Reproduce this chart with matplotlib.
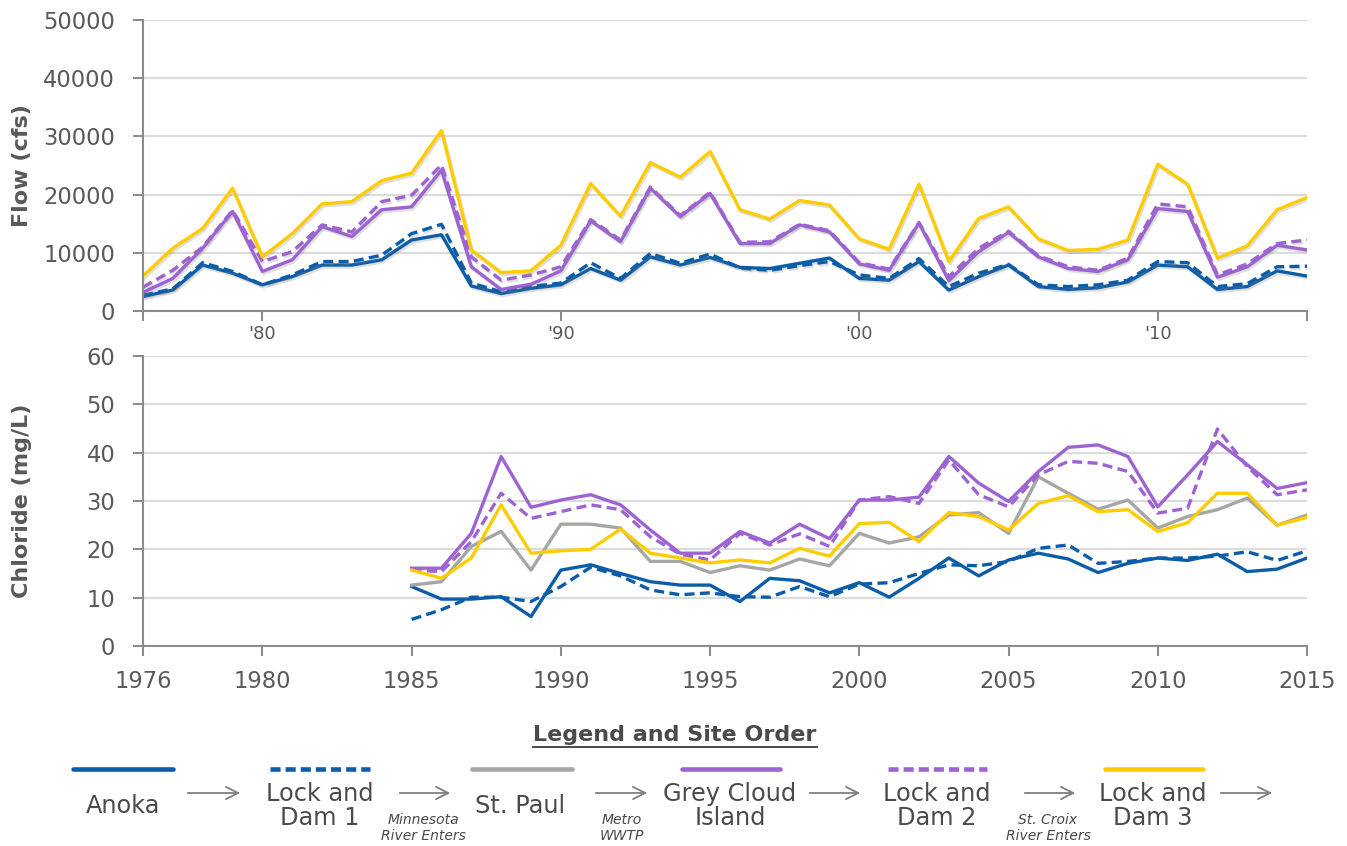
import numpy as np
import matplotlib
matplotlib.use("Agg")
import matplotlib.pyplot as plt
import matplotlib.patheffects as pe
from matplotlib.lines import Line2D
from matplotlib.patches import FancyArrowPatch

plt.rcParams['font.family'] = ['DejaVu Sans']

# ---- data ----
flow_years = np.arange(1976, 2016)
chl_years = np.arange(1985, 2016)

anoka_flow = [2500, 3600, 7900, 6500, 4500, 5900, 7900, 7900, 8800, 12200,
              13100, 4300, 3000, 3900, 4500, 7300, 5300, 9300, 7900, 9200,
              7500, 7300, 8200, 9100, 5600, 5300, 8500, 3600, 5900, 7900,
              4200, 3700, 4000, 5000, 7900, 7600, 3700, 4200, 6900, 6000]
ld1_flow = [2700, 3800, 8300, 6800, 4500, 6200, 8500, 8500, 9600, 13300,
            14900, 4800, 3300, 4200, 4800, 8300, 5600, 9900, 8200, 9800,
            7400, 7000, 7800, 8500, 6200, 5600, 9000, 4200, 6500, 8000,
            4500, 4200, 4500, 5300, 8500, 8300, 4200, 4700, 7600, 7700]
gci_flow = [3200, 5600, 10800, 17100, 6800, 8800, 14500, 12800, 17400, 17900,
            24200, 7600, 3700, 4600, 6900, 15500, 11900, 21100, 16200, 20200,
            11600, 11600, 14800, 13600, 8100, 7000, 15100, 5200, 10200, 13500,
            9300, 7300, 6800, 8800, 17600, 17100, 5800, 7600, 11300, 10500]
ld2_flow = [4100, 7000, 11000, 17300, 8500, 10200, 14800, 13600, 18800, 19900,
            25100, 9300, 5300, 6200, 7600, 15700, 12200, 21300, 16400, 20400,
            11800, 11900, 14900, 13800, 8300, 7200, 15200, 5900, 10800, 13700,
            9500, 7600, 7000, 9100, 18400, 17900, 6200, 8100, 11600, 12200]
ld3_flow = [6000, 10800, 14200, 21100, 9300, 13300, 18400, 18800, 22400, 23700,
            31000, 10500, 6600, 6900, 11300, 21900, 16300, 25500, 23000, 27400,
            17400, 15800, 19000, 18200, 12400, 10600, 21800, 8500, 15900, 17900,
            12400, 10400, 10600, 12200, 25200, 21800, 9100, 11200, 17400, 19500]

anoka_chl = [12.3, 9.7, 9.7, 10.2, 6.1, 15.7, 16.8, 15.0, 13.3, 12.6, 12.6, 9.2,
             14.0, 13.5, 11.0, 13.1, 10.1, 14.0, 18.2, 14.5, 17.8, 19.2, 18.0,
             15.2, 17.1, 18.2, 17.7, 19.0, 15.4, 15.9, 18.2]
ld1_chl = [5.5, 7.5, 10.1, 10.1, 9.2, 12.3, 16.3, 14.5, 11.6, 10.6, 11.0, 10.2,
           10.1, 12.3, 10.2, 12.8, 13.1, 15.0, 16.8, 16.6, 17.5, 20.2, 20.9,
           17.1, 17.5, 18.2, 18.2, 18.6, 19.5, 17.7, 19.7]
stpaul_chl = [12.6, 13.3, 20.6, 23.7, 15.7, 25.2, 25.2, 24.4, 17.5, 17.5, 15.2,
              16.6, 15.7, 18.0, 16.6, 23.3, 21.3, 22.6, 27.1, 27.6, 23.3, 35.0,
              31.6, 28.3, 30.2, 24.4, 26.8, 28.2, 30.6, 25.0, 27.1]
gci_chl = [16.1, 16.1, 23.3, 39.2, 28.7, 30.2, 31.3, 29.2, 24.0, 19.2, 19.2, 23.7,
           21.3, 25.2, 22.2, 30.2, 30.2, 30.8, 39.2, 33.7, 29.9, 36.1, 41.1,
           41.6, 39.2, 28.8, 35.4, 42.3, 37.5, 32.6, 33.8]
ld2_chl = [15.7, 15.4, 21.6, 31.6, 26.4, 27.8, 29.2, 28.2, 22.6, 19.0, 17.8, 23.3,
           20.9, 23.2, 20.6, 30.2, 30.9, 29.5, 38.5, 31.3, 28.8, 35.4, 38.2,
           37.8, 36.1, 27.5, 28.5, 44.9, 37.1, 31.3, 32.3]
ld3_chl = [15.7, 14.0, 18.2, 29.2, 19.2, 19.7, 20.0, 24.2, 19.2, 18.2, 17.2, 17.8,
           17.2, 20.2, 18.6, 25.3, 25.6, 21.6, 27.6, 26.8, 24.0, 29.5, 31.1,
           27.8, 28.2, 23.7, 25.5, 31.6, 31.6, 25.0, 26.6]

site_names = ["Anoka", "Lock and\nDam 1", "St. Paul", "Grey Cloud\nIsland",
              "Lock and\nDam 2", "Lock and\nDam 3"]
between_notes = ["", "Minnesota\nRiver Enters", "Metro\nWWTP", "", "St. Croix\nRiver Enters", ""]

# ---- styles ----
BLUE = "#0c5da8"
GREY = "#a6a6a6"
PURPLE = "#9e63d3"
YELLOW = "#ffcc00"
site_colors = [BLUE, BLUE, GREY, PURPLE, PURPLE, YELLOW]
site_dashed = [False, True, False, False, True, False]
flow_data = [anoka_flow, ld1_flow, None, gci_flow, ld2_flow, ld3_flow]
chl_data = [anoka_chl, ld1_chl, stpaul_chl, gci_chl, ld2_chl, ld3_chl]

W, H = 1347, 846
fig = plt.figure(figsize=(W / 100, H / 100), dpi=100)


def fx(x):
    return x / W


def fy(y):
    return 1 - y / H


ax1 = fig.add_axes([fx(143), fy(311), 1164 / W, 291 / H])
ax2 = fig.add_axes([fx(143), fy(646), 1164 / W, 290 / H])

shadow = [pe.SimpleLineShadow(offset=(1, -1.5), shadow_color="#808080", alpha=0.25), pe.Normal()]

for i in range(len(site_names)):
    kw = dict(color=site_colors[i], lw=2.4)
    if site_dashed[i]:
        kw["dashes"] = (3, 1.6)
    if flow_data[i] is not None:
        ax1.plot(flow_years, flow_data[i], path_effects=shadow, **kw)
    ax2.plot(chl_years, chl_data[i], **kw)

for ax in (ax1, ax2):
    for s in ("top", "right"):
        ax.spines[s].set_visible(False)
    for s in ("left", "bottom"):
        ax.spines[s].set_color("#8c8c8c")
        ax.spines[s].set_linewidth(1.5)
    ax.grid(axis="y", color="#dcdcdc", lw=1.6)
    ax.set_axisbelow(True)
    ax.set_xlim(1976, 2015)
    ax.tick_params(axis="both", direction="out", length=7, width=1.5,
                   color="#8c8c8c", labelcolor="#595959")
    ax.tick_params(axis="y", labelsize=16.3, pad=13)

ax1.set_ylim(0, 50000)
ax1.set_yticks(np.arange(0, 50001, 10000))
ax1.set_xticks([1976, 1980, 1990, 2000, 2010, 2015])
ax1.set_xticklabels(["", "'80", "'90", "'00", "'10", ""])
ax1.tick_params(axis="x", labelsize=13, pad=3)
ax1.set_ylabel("Flow (cfs)", fontsize=16, fontweight="bold", color="#595959")
ax1.yaxis.set_label_coords(-0.095, 0.5)

ax2.set_ylim(0, 60)
ax2.set_yticks(np.arange(0, 61, 10))
ax2.set_xticks([1976, 1980, 1985, 1990, 1995, 2000, 2005, 2010, 2015])
ax2.tick_params(axis="x", labelsize=16.3, pad=10)
ax2.set_ylabel("Chloride (mg/L)", fontsize=16, fontweight="bold", color="#595959")
ax2.yaxis.set_label_coords(-0.095, 0.5)

# ---- legend and site order ----
TXT = "#4a4a4a"
fig.text(fx(675), fy(735), "Legend and Site Order", ha="center", va="center",
         fontsize=16, fontweight="bold", color=TXT)
fig.add_artist(Line2D([fx(533), fx(817)], [fy(747), fy(747)], color=TXT, lw=1.4))

line_x = [(73, 173), (270, 370), (472, 572), (682, 780), (888, 987), (1105, 1203)]
name_x = [123, 320, 520, 730, 937, 1153]
arrow_x = [(185, 243), (397, 453), (593, 650), (807, 863), (1022, 1078), (1218, 1275)]
note_x = [0, 423, 622, 0, 1048, 0]

for i, name in enumerate(site_names):
    kw = dict(color=site_colors[i], lw=3.3, solid_capstyle="round")
    if site_dashed[i]:
        kw["dashes"] = (2.2, 1.1)
        kw["dash_capstyle"] = "butt"
    fig.add_artist(Line2D([fx(line_x[i][0]), fx(line_x[i][1])], [fy(769), fy(769)], **kw))
    fig.text(fx(name_x[i]), fy(806), name, ha="center", va="center",
             fontsize=17.3, color=TXT, linespacing=1.05)
    a0, a1 = arrow_x[i]
    fig.add_artist(FancyArrowPatch((fx(a0), fy(793)), (fx(a1), fy(793)),
                                   transform=fig.transFigure, arrowstyle="->",
                                   mutation_scale=22, color="#7f7f7f", lw=1.3))
    if between_notes[i]:
        fig.text(fx(note_x[i]), fy(828), between_notes[i], ha="center", va="center",
                 fontsize=10, style="italic", color=TXT, linespacing=1.15)

fig.savefig("out.png", dpi=100)
